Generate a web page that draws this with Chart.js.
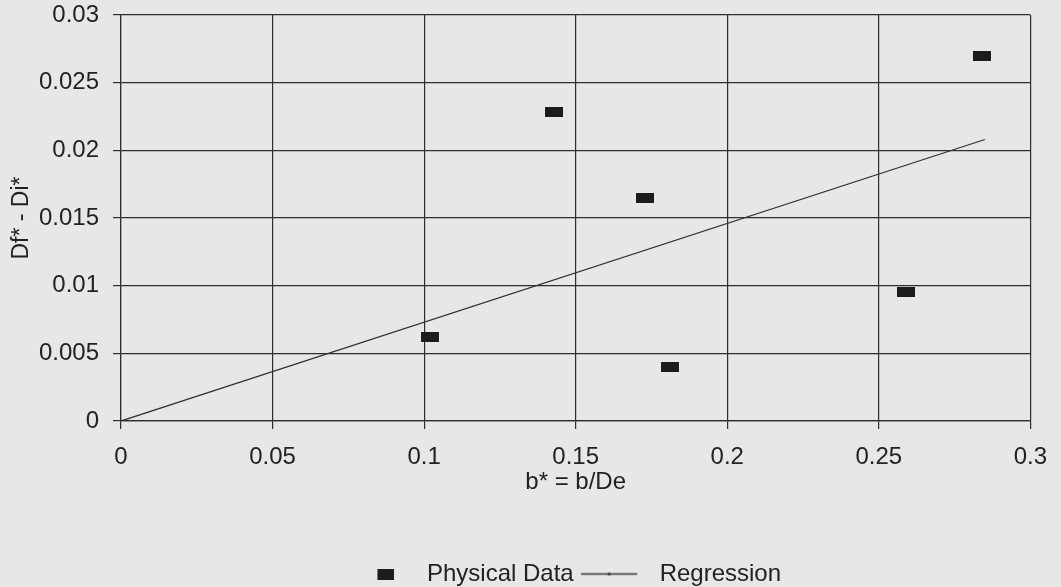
<!DOCTYPE html>
<html>
<head>
<meta charset="utf-8">
<script src="https://cdn.jsdelivr.net/npm/chart.js@4/dist/chart.umd.min.js"></script>
<style>
  html, body { margin: 0; padding: 0; background: #e7e7e5; }
  #wrap { width: 1061px; height: 587px; position: relative; }
</style>
</head>
<body>
<div id="wrap"><canvas id="c" width="1061" height="587"></canvas></div>
<script>
// ---- data ----
const physX = [0.102, 0.143, 0.173, 0.181, 0.259, 0.284];
const physY = [0.0062, 0.0228, 0.0165, 0.0040, 0.0095, 0.0270];
const regX = [0, 0.285];
const regY = [0, 0.0208];
const xTicks = [0, 0.05, 0.1, 0.15, 0.2, 0.25, 0.3];
const yTicks = [0, 0.005, 0.01, 0.015, 0.02, 0.025, 0.03];
const xTitle = 'b* = b/De';
const yTitle = 'Df* - Di*';
const seriesNames = ['Physical Data', 'Regression'];

// ---- styles ----
const FONT = "'Liberation Sans', Arial, sans-serif";
const TXT = '#222222';
const LINE = '#2e2e2e';
const MARK = '#1c1c1c';

function makeCanvas(w, h, draw) {
  const c = document.createElement('canvas');
  c.width = w; c.height = h;
  draw(c.getContext('2d'));
  return c;
}
const markerImg = makeCanvas(18, 10, g => { g.fillStyle = MARK; g.fillRect(0, 0, 18, 10); });
const legendPhysImg = makeCanvas(23, 11, g => { g.fillStyle = MARK; g.fillRect(6, 0, 17, 11); });
const legendRegImg = makeCanvas(69, 5, g => {
  g.strokeStyle = '#333'; g.lineWidth = 1.3;
  g.beginPath(); g.moveTo(0, 2.5); g.lineTo(56, 2.5); g.stroke();
  g.fillStyle = '#333'; g.beginPath(); g.arc(28, 2.5, 1.6, 0, Math.PI * 2); g.fill();
});

const legendPos = {
  id: 'legendPos',
  afterLayout(chart) {
    const L = chart.legend;
    if (!L) return;
    const h = L.height;
    L.left = 98; L.right = 1034;
    L.top = 552; L.bottom = 552 + h;
  }
};

new Chart(document.getElementById('c'), {
  type: 'scatter',
  data: {
    datasets: [
      {
        label: seriesNames[0],
        data: physX.map((x, i) => ({ x: x, y: physY[i] })),
        pointStyle: markerImg,
        pointRadius: 6,
        pointHoverRadius: 6,
        backgroundColor: MARK,
        borderColor: MARK,
        showLine: false,
        legendImg: legendPhysImg
      },
      {
        label: seriesNames[1],
        data: regX.map((x, i) => ({ x: x, y: regY[i] })),
        showLine: true,
        borderColor: '#333333',
        borderWidth: 1.3,
        pointRadius: 0,
        pointHoverRadius: 0,
        fill: false,
        legendImg: legendRegImg
      }
    ]
  },
  options: {
    responsive: false,
    animation: false,
    devicePixelRatio: 1,
    layout: { padding: { top: 15, right: 27, left: 0, bottom: 0 } },
    scales: {
      x: {
        type: 'linear',
        min: 0, max: 0.3,
        afterBuildTicks: s => { s.ticks = xTicks.map(v => ({ value: v })); },
        afterFit: s => { s.height = 122; },
        grid: { color: LINE, lineWidth: 1.2, tickLength: 8, drawTicks: true },
        border: { color: LINE, width: 1.2 },
        ticks: {
          font: { family: FONT, size: 24 }, color: TXT, padding: 14,
          maxRotation: 0, autoSkip: false,
          callback: v => String(v)
        },
        title: {
          display: true, text: xTitle, color: TXT,
          font: { family: FONT, size: 24 },
          padding: { top: 0, bottom: 46 }
        }
      },
      y: {
        type: 'linear',
        min: 0, max: 0.03,
        afterBuildTicks: s => { s.ticks = yTicks.map(v => ({ value: v })); },
        afterFit: s => { s.width = 121; s.paddingTop = 0; s.paddingBottom = 0; },
        grid: { color: LINE, lineWidth: 1.2, tickLength: 8, drawTicks: true },
        border: { color: LINE, width: 1.2 },
        ticks: {
          font: { family: FONT, size: 24 }, color: TXT, padding: 14,
          autoSkip: false,
          callback: v => String(v)
        },
        title: {
          display: true, text: yTitle, color: TXT,
          font: { family: FONT, size: 23 },
          padding: { top: 8, bottom: 0 }
        }
      }
    },
    plugins: {
      tooltip: { enabled: false },
      legend: {
        position: 'bottom',
        labels: {
          usePointStyle: true,
          pointStyleWidth: 64,
          padding: 10,
          color: TXT,
          font: { family: FONT, size: 24 },
          generateLabels: chart => chart.data.datasets.map((ds, i) => ({
            text: ds.label,
            pointStyle: ds.legendImg,
            fillStyle: MARK,
            strokeStyle: MARK,
            lineWidth: 0,
            hidden: false,
            datasetIndex: i,
            fontColor: TXT
          }))
        }
      }
    }
  },
  plugins: [legendPos]
});
</script>
</body>
</html>
